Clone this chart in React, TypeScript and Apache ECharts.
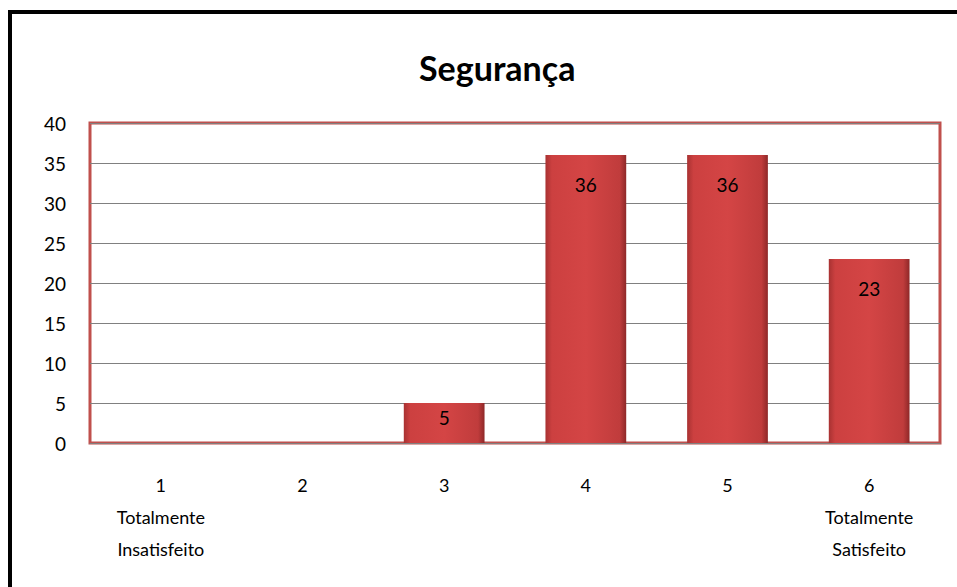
import React, { useEffect, useRef } from "react";
import * as echarts from "echarts";

const categories = ["1\nTotalmente\nInsatisfeito", "2", "3", "4", "5", "6\nTotalmente\nSatisfeito"];
const values = [0, 0, 5, 36, 36, 23];
const yTicks = { min: 0, max: 40, interval: 5 };
const title = "Segurança";

export default function App() {
  const ref = useRef<HTMLDivElement>(null);
  useEffect(() => {
    if (!ref.current) return;
    const chart = echarts.init(ref.current, undefined, { renderer: "svg" });
    const font = "Lato, 'Open Sans', sans-serif";
    chart.setOption({
      animation: false,
      backgroundColor: "#fff",
      title: {
        text: title,
        left: 414,
        top: 45,
        textStyle: { fontFamily: font, fontSize: 34, fontWeight: "bold", color: "#000" },
      },
      graphic: [
        {
          type: "rect",
          shape: { x: 8, y: 10, width: 4, height: 590 },
          style: { fill: "#000" },
          silent: true,
          z: 100,
        },
        {
          type: "rect",
          shape: { x: 8, y: 10, width: 949, height: 4 },
          style: { fill: "#000" },
          silent: true,
          z: 100,
        },
      ],
      grid: {
        left: 90,
        right: 17,
        top: 123,
        bottom: 144,
        show: true,
        borderColor: "#c0504d",
        borderWidth: 3,
        backgroundColor: "transparent",
        containLabel: false,
      },
      xAxis: {
        type: "category",
        data: categories,
        axisLine: { show: true, lineStyle: { color: "#808080", width: 1 } },
        axisTick: { show: false },
        axisLabel: {
          fontFamily: font,
          fontSize: 18,
          color: "#000",
          lineHeight: 32,
          margin: 26,
          interval: 0,
        },
      },
      yAxis: {
        type: "value",
        min: yTicks.min,
        max: yTicks.max,
        interval: yTicks.interval,
        axisLine: { show: false },
        axisTick: { show: false },
        splitLine: { show: true, lineStyle: { color: "#808080", width: 1 } },
        axisLabel: { fontFamily: font, fontSize: 19, color: "#000", margin: 24 },
      },
      series: [
        {
          type: "bar",
          barWidth: "57%",
          data: values.map((v) =>
            v > 10 ? { value: v } : { value: v, label: { distance: 5 } }
          ),
          itemStyle: {
            color: new echarts.graphic.LinearGradient(0, 0, 1, 0, [
              { offset: 0, color: "#a83232" },
              { offset: 0.08, color: "#cc4040" },
              { offset: 0.5, color: "#d44545" },
              { offset: 0.92, color: "#c03c3c" },
              { offset: 1, color: "#8e2828" },
            ]),
            borderWidth: 0,
          },
          label: {
            show: true,
            position: "insideTop",
            distance: 20,
            fontFamily: font,
            fontSize: 19,
            color: "#000",
            formatter: (p: any) => (p.value > 0 ? String(p.value) : ""),
          },
        },
      ],
    });
    return () => chart.dispose();
  }, []);
  return (
    <div
      ref={ref}
      style={{ position: "fixed", left: 0, top: 0, width: 957, height: 587, overflow: "hidden" }}
    />
  );
}
